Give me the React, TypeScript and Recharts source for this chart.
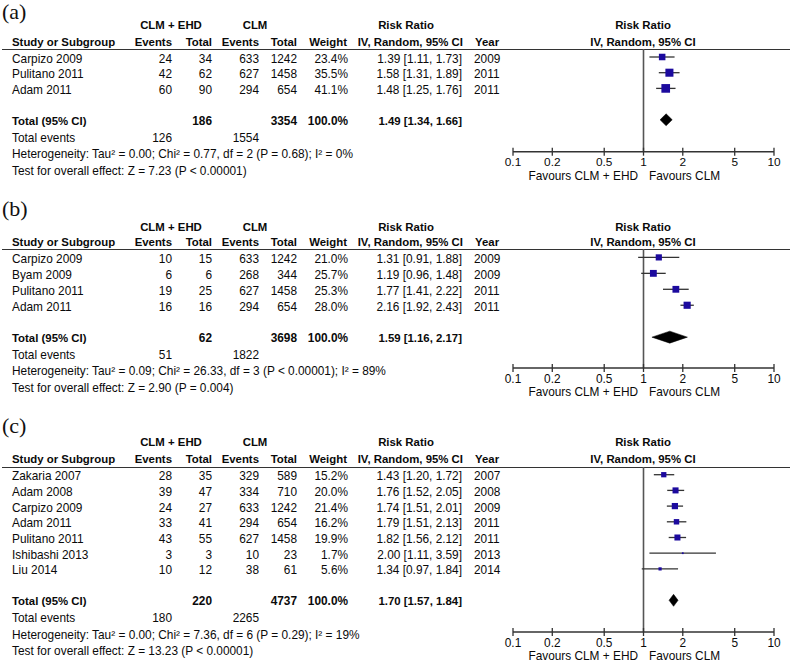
import React from "react";
import { ComposedChart, Scatter, Area, XAxis, YAxis, ReferenceLine } from "recharts";

const FONT = '"Liberation Sans", Arial, Helvetica, sans-serif';
const SERIF = '"Liberation Serif", "Times New Roman", serif';
const FS = 11.85;
const FSB = 11.4;

// ---------- Panel (a) ----------
const studiesA = ["Carpizo 2009", "Pulitano 2011", "Adam 2011"];
const eventsA = [24, 42, 60];
const totalsA = [34, 62, 90];
const ctrlEventsA = [633, 627, 294];
const ctrlTotalsA = [1242, 1458, 654];
const weightsA = [23.4, 35.5, 41.1];
const rrA = [1.39, 1.58, 1.48];
const lowA = [1.11, 1.31, 1.25];
const highA = [1.73, 1.89, 1.76];
const yearsA = [2009, 2011, 2011];
const summaryA = [186, 3354, 126, 1554];
const pooledA = [1.49, 1.34, 1.66];
const hetA = "Heterogeneity: Tau\u00B2 = 0.00; Chi\u00B2 = 0.77, df = 2 (P = 0.68); I\u00B2 = 0%";
const testA = "Test for overall effect: Z = 7.23 (P < 0.00001)";

// ---------- Panel (b) ----------
const studiesB = ["Carpizo 2009", "Byam 2009", "Pulitano 2011", "Adam 2011"];
const eventsB = [10, 6, 19, 16];
const totalsB = [15, 6, 25, 16];
const ctrlEventsB = [633, 268, 627, 294];
const ctrlTotalsB = [1242, 344, 1458, 654];
const weightsB = [21.0, 25.7, 25.3, 28.0];
const rrB = [1.31, 1.19, 1.77, 2.16];
const lowB = [0.91, 0.96, 1.41, 1.92];
const highB = [1.88, 1.48, 2.22, 2.43];
const yearsB = [2009, 2009, 2011, 2011];
const summaryB = [62, 3698, 51, 1822];
const pooledB = [1.59, 1.16, 2.17];
const hetB = "Heterogeneity: Tau\u00B2 = 0.09; Chi\u00B2 = 26.33, df = 3 (P < 0.00001); I\u00B2 = 89%";
const testB = "Test for overall effect: Z = 2.90 (P = 0.004)";

// ---------- Panel (c) ----------
const studiesC = ["Zakaria 2007", "Adam 2008", "Carpizo 2009", "Adam 2011", "Pulitano 2011", "Ishibashi 2013", "Liu 2014"];
const eventsC = [28, 39, 24, 33, 43, 3, 10];
const totalsC = [35, 47, 27, 41, 55, 3, 12];
const ctrlEventsC = [329, 334, 633, 294, 627, 10, 38];
const ctrlTotalsC = [589, 710, 1242, 654, 1458, 23, 61];
const weightsC = [15.2, 20.0, 21.4, 16.2, 19.9, 1.7, 5.6];
const rrC = [1.43, 1.76, 1.74, 1.79, 1.82, 2.0, 1.34];
const lowC = [1.2, 1.52, 1.51, 1.51, 1.56, 1.11, 0.97];
const highC = [1.72, 2.05, 2.01, 2.13, 2.12, 3.59, 1.84];
const yearsC = [2007, 2008, 2009, 2011, 2011, 2013, 2014];
const summaryC = [220, 4737, 180, 2265];
const pooledC = [1.7, 1.57, 1.84];
const hetC = "Heterogeneity: Tau\u00B2 = 0.00; Chi\u00B2 = 7.36, df = 6 (P = 0.29); I\u00B2 = 19%";
const testC = "Test for overall effect: Z = 13.23 (P < 0.00001)";

// axis
const axisTicks = [0.1, 0.2, 0.5, 1, 2, 5, 10];
const axisTickLabels = ["0.1", "0.2", "0.5", "1", "2", "5", "10"];

// layout (positions only)
const layouts = [
  { label: "(a)", labelY: 12, hdr1: 25, hdr2: 41.7, lineY: 49.3, row0: 57.3, rowPx: 15.7, axisY: 152 },
  { label: "(b)", labelY: 209, hdr1: 226.7, hdr2: 242.3, lineY: 249.3, row0: 257.7, rowPx: 15.95, axisY: 368.3 },
  { label: "(c)", labelY: 426, hdr1: 441.7, hdr2: 459, lineY: 467.3, row0: 475, rowPx: 15.7, axisY: 632.3 },
];

const panels = [
  { studies: studiesA, events: eventsA, totals: totalsA, ctrlEvents: ctrlEventsA, ctrlTotals: ctrlTotalsA, weights: weightsA, rr: rrA, low: lowA, high: highA, years: yearsA, summary: summaryA, pooled: pooledA, het: hetA, test: testA },
  { studies: studiesB, events: eventsB, totals: totalsB, ctrlEvents: ctrlEventsB, ctrlTotals: ctrlTotalsB, weights: weightsB, rr: rrB, low: lowB, high: highB, years: yearsB, summary: summaryB, pooled: pooledB, het: hetB, test: testB },
  { studies: studiesC, events: eventsC, totals: totalsC, ctrlEvents: ctrlEventsC, ctrlTotals: ctrlTotalsC, weights: weightsC, rr: rrC, low: lowC, high: highC, years: yearsC, summary: summaryC, pooled: pooledC, het: hetC, test: testC },
];

const CHART_LEFT = 480;
const CHART_W = 310;
const PLOT_LEFT = 513;
const PLOT_RIGHT = 774;
const AXIS_H = 34;

type TProps = { x: number; y: number; children: React.ReactNode; align?: "left" | "right" | "center"; bold?: boolean; w?: number; size?: number };
function T({ x, y, children, align = "left", bold = false, w = 200, size }: TProps) {
  const style: React.CSSProperties = {
    position: "absolute",
    top: y - 7,
    whiteSpace: "nowrap",
    fontFamily: FONT,
    fontSize: size ?? (bold ? FSB : FS),
    lineHeight: "14px",
    fontWeight: bold ? 700 : 400,
    color: "#0a0a0a",
  };
  if (align === "left") style.left = x;
  else if (align === "right") {
    style.left = x - w;
    style.width = w;
    style.textAlign = "right";
  } else {
    style.left = x - w / 2;
    style.width = w;
    style.textAlign = "center";
  }
  return <div style={style}>{children}</div>;
}

const AxisTick = (props: any) => {
  const { x, y, payload } = props;
  const i = axisTicks.indexOf(payload.value);
  return (
    <g>
      <line x1={x} x2={x} y1={y - 4} y2={y + 4} stroke="#333" strokeWidth={1.3} />
      <text x={x} y={y + 14.8} textAnchor="middle" fontFamily={FONT} fontSize={FS} fill="#0a0a0a">
        {i >= 0 ? axisTickLabels[i] : String(payload.value)}
      </text>
    </g>
  );
};

const Square = (props: any) => {
  const { cx, cy, payload } = props;
  const s = payload.side;
  return <rect x={cx - s / 2} y={cy - s / 2} width={s} height={s} fill="#1c0a9e" />;
};

function Panel({ d, g }: { d: any; g: any }) {
  const n = d.studies.length;
  const rowY = (i: number) => g.row0 + i * g.rowPx;
  const totalIdx = n + 1;
  const totalY = rowY(totalIdx) + 0.5;
  const yTop = (g.lineY - g.row0) / g.rowPx;
  const yBot = (g.axisY - g.row0) / g.rowPx;
  const half = 6 / g.rowPx;

  const pts = d.rr.map((v: number, i: number) => ({ x: v, y: i, side: 1.35 * Math.sqrt(d.weights[i]) }));
  const diamond = [
    { x: d.pooled[1], band: [totalIdx, totalIdx] },
    { x: d.pooled[0], band: [totalIdx - half, totalIdx + half] },
    { x: d.pooled[2], band: [totalIdx, totalIdx] },
  ];

  const els: React.ReactNode[] = [];
  els.push(
    <div key="lbl" style={{ position: "absolute", left: 2, top: g.labelY - 13, fontFamily: SERIF, fontSize: 22, lineHeight: "26px", color: "#111" }}>
      {g.label}
    </div>
  );
  // headers
  els.push(<T key="h1" x={171} y={g.hdr1} align="center" bold>CLM + EHD</T>);
  els.push(<T key="h2" x={255} y={g.hdr1} align="center" bold>CLM</T>);
  els.push(<T key="h3" x={406} y={g.hdr1} align="center" bold>Risk Ratio</T>);
  els.push(<T key="h4" x={643} y={g.hdr1} align="center" bold>Risk Ratio</T>);
  els.push(<T key="s1" x={12} y={g.hdr2} bold>Study or Subgroup</T>);
  els.push(<T key="s2" x={172} y={g.hdr2} align="right" bold>Events</T>);
  els.push(<T key="s3" x={212} y={g.hdr2} align="right" bold>Total</T>);
  els.push(<T key="s4" x={259} y={g.hdr2} align="right" bold>Events</T>);
  els.push(<T key="s5" x={297} y={g.hdr2} align="right" bold>Total</T>);
  els.push(<T key="s6" x={347} y={g.hdr2} align="right" bold>Weight</T>);
  els.push(<T key="s7" x={463} y={g.hdr2} align="right" bold>IV, Random, 95% CI</T>);
  els.push(<T key="s8" x={475} y={g.hdr2} bold>Year</T>);
  els.push(<T key="s9" x={643} y={g.hdr2} align="center" bold>IV, Random, 95% CI</T>);
  els.push(<div key="line" style={{ position: "absolute", left: 2, width: 788, top: g.lineY - 0.75, height: 1.5, background: "#333" }} />);

  d.studies.forEach((s: string, i: number) => {
    const y = rowY(i) + 1.2;
    els.push(<T key={"n" + i} x={12} y={y}>{s}</T>);
    els.push(<T key={"e" + i} x={172} y={y} align="right">{d.events[i]}</T>);
    els.push(<T key={"t" + i} x={212} y={y} align="right">{d.totals[i]}</T>);
    els.push(<T key={"ce" + i} x={259} y={y} align="right">{d.ctrlEvents[i]}</T>);
    els.push(<T key={"ct" + i} x={297} y={y} align="right">{d.ctrlTotals[i]}</T>);
    els.push(<T key={"w" + i} x={348} y={y} align="right">{d.weights[i].toFixed(1) + "%"}</T>);
    els.push(
      <T key={"r" + i} x={462} y={y} align="right">
        {`${d.rr[i].toFixed(2)} [${d.low[i].toFixed(2)}, ${d.high[i].toFixed(2)}]`}
      </T>
    );
    els.push(<T key={"y" + i} x={474} y={y}>{d.years[i]}</T>);
  });

  els.push(<T key="tt" x={12} y={totalY} bold>Total (95% CI)</T>);
  els.push(<T key="tt1" x={212} y={totalY} align="right" bold size={FS}>{d.summary[0]}</T>);
  els.push(<T key="tt2" x={297} y={totalY} align="right" bold size={FS}>{d.summary[1]}</T>);
  els.push(<T key="tt3" x={348} y={totalY} align="right" bold size={FS}>100.0%</T>);
  els.push(
    <T key="tt4" x={462} y={totalY} align="right" bold>
      {`${d.pooled[0].toFixed(2)} [${d.pooled[1].toFixed(2)}, ${d.pooled[2].toFixed(2)}]`}
    </T>
  );
  els.push(<T key="te" x={12} y={totalY + 17}>Total events</T>);
  els.push(<T key="te1" x={172} y={totalY + 17} align="right">{d.summary[2]}</T>);
  els.push(<T key="te2" x={259} y={totalY + 17} align="right">{d.summary[3]}</T>);
  els.push(<T key="het" x={12} y={totalY + 33.5}>{d.het}</T>);
  els.push(<T key="test" x={12} y={totalY + 50}>{d.test}</T>);

  els.push(<T key="f1" x={638} y={g.axisY + 23.5} align="right">Favours CLM + EHD</T>);
  els.push(<T key="f2" x={649} y={g.axisY + 23.5}>Favours CLM</T>);

  const plotH = g.axisY - g.lineY;
  els.push(
    <div key="chart" style={{ position: "absolute", left: CHART_LEFT, top: g.lineY }}>
      <ComposedChart
        width={CHART_W}
        height={plotH + AXIS_H}
        margin={{ top: 0, right: CHART_LEFT + CHART_W - PLOT_RIGHT, bottom: 0, left: PLOT_LEFT - CHART_LEFT }}
      >
        <XAxis
          dataKey="x"
          type="number"
          scale="log"
          domain={[0.1, 10]}
          ticks={axisTicks}
          interval={0}
          allowDataOverflow
          height={AXIS_H}
          axisLine={{ stroke: "#333", strokeWidth: 1.5 }}
          tickLine={false}
          tickSize={0}
          tickMargin={0}
          tick={<AxisTick />}
        />
        <YAxis dataKey="y" type="number" domain={[yTop, yBot]} reversed hide allowDataOverflow />
        <ReferenceLine x={1} stroke="#555" strokeWidth={1.6} />
        {d.rr.map((_: number, i: number) => (
          <ReferenceLine
            key={"ci" + i}
            segment={[{ x: d.low[i], y: i }, { x: d.high[i], y: i }]}
            stroke="#333"
            strokeWidth={1.3}
          />
        ))}
        <Area
          data={diamond}
          dataKey="band"
          type="linear"
          stroke="#000"
          strokeWidth={0.5}
          fill="#000"
          fillOpacity={1}
          dot={false}
          activeDot={false}
          isAnimationActive={false}
        />
        <Scatter data={pts} shape={<Square />} isAnimationActive={false} />
      </ComposedChart>
    </div>
  );

  return <>{els}</>;
}

export default function App() {
  return (
    <div style={{ position: "absolute", left: 0, top: 0, width: 790, height: 663, background: "#fff", overflow: "hidden" }}>
      {panels.map((d, k) => (
        <Panel key={k} d={d} g={layouts[k]} />
      ))}
    </div>
  );
}
